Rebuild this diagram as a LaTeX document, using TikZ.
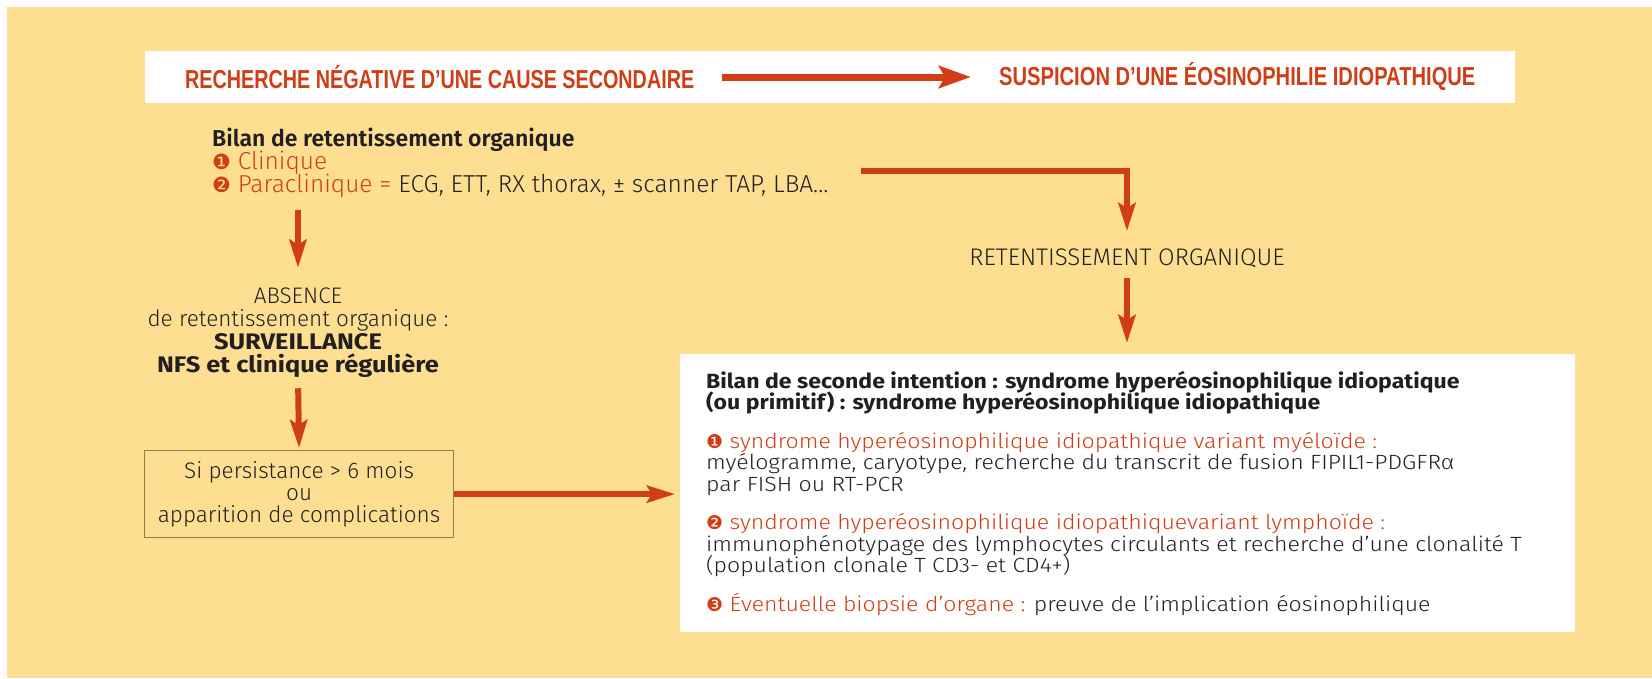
\documentclass[tikz,border=0pt]{standalone}
\usepackage{fontspec}
\setmainfont{Fira Sans}[UprightFont=* Light, BoldFont=* SemiBold]
\newfontfamily\wideb{Fira Sans}[BoldFont=* Bold, FakeStretch=1.13]
\newfontfamily\bbl{Fira Sans}[UprightFont=* Light, BoldFont=* Bold, FakeStretch=1.12]
\newfontfamily\conda[FakeStretch=0.76]{Liberation Sans}
\newfontfamily\condb[FakeStretch=0.775]{Liberation Sans}
\newfontfamily\dv{DejaVu Sans}
\usetikzlibrary{arrows.meta}
\definecolor{bgY}{HTML}{FEDF92}
\definecolor{rd}{HTML}{D03E16}
\definecolor{txt}{HTML}{231F20}
\definecolor{bx}{HTML}{9C7A4E}
\newcommand{\num}[1]{{\dv\fontsize{21}{21}\selectfont #1}}
\newcommand{\snum}[1]{{\dv\fontsize{19}{19}\selectfont #1}}
\newcommand{\wb}[1]{{\wideb\bfseries #1}}
\tikzset{
  ttla/.style={inner sep=0pt, text=rd, font=\conda\bfseries\fontsize{26}{26}\selectfont},
  ttlb/.style={inner sep=0pt, text=rd, font=\condb\bfseries\fontsize{26}{26}\selectfont},
  body/.style={inner sep=0pt, text=txt, font=\fontsize{22.5}{21.5}\selectfont},
  arr/.style={draw=rd, line width=6pt, -{Stealth[length=28pt,width=17pt,inset=5pt]}},
  bigarr/.style={draw=rd, line width=7pt, -{Stealth[length=32pt,width=22pt,inset=6pt]}}
}
\begin{document}
\lineskiplimit=-100pt \lineskip=0pt
\begin{tikzpicture}[x=1pt,y=-1pt]
\useasboundingbox (0,0) rectangle (1652,678);
\fill[white] (0,0) rectangle (1652,678);
\fill[bgY] (7,7) rectangle (1652,678);
% banner
\node[fill=white, inner sep=0pt, minimum width=1370pt, minimum height=52pt, anchor=north west] (banner) at (145,51) {};
\node[ttla, anchor=west] (t1) at (185,77) {RECHERCHE NÉGATIVE D’UNE CAUSE SECONDAIRE};
\node[ttlb, anchor=west] (t2) at (999,77) {SUSPICION D’UNE ÉOSINOPHILIE IDIOPATHIQUE};
\coordinate (a1) at (722,77);
\coordinate (a2) at (971,77);
\draw[bigarr] (a1) -- (a2);
% bilan
\node[body, font=\fontsize{24.5}{23}\selectfont, anchor=north west, align=left] (bil) at (212,127.5) {\rule{0pt}{17pt}{\fontsize{23}{23}\selectfont\bfseries Bilan de retentissement organique}\\
{\color{rd}\num{❶} Clinique}\\
{\color{rd}\num{❷} Paraclinique =} ECG, ETT, RX thorax, ± scanner TAP, LBA...};
% retentissement
\node[body, font=\fontsize{24}{23}\selectfont, anchor=base] (ret) at (1127,265) {RETENTISSEMENT ORGANIQUE};
\coordinate (c1) at (861,171);
\draw[arr, shorten >=17pt] (c1) -| (ret.north);
% absence
\node[body, font=\fontsize{22.5}{22.7}\selectfont, anchor=north, align=center] (abs) at (298,285.75) {\rule{0pt}{18pt}ABSENCE\\de retentissement organique :\\\wb{SURVEILLANCE}\\\wb{NFS et clinique régulière}};
\draw[arr, shorten <=13pt, shorten >=18pt] (abs.north |- bil.south) -- (abs.north);
% box
\node[draw=bx, line width=1.2pt, fill=bgY, minimum width=309pt, minimum height=87pt, anchor=north west, inner sep=0pt] (box) at (144,450) {};
\node[body, font=\fontsize{22.5}{22}\selectfont, align=center] (boxt) at (box.center) {Si persistance > 6 mois\\ou\\apparition de complications};
\draw[arr, shorten <=11pt, shorten >=2pt] (abs.south) -- (box.north);
% big box
\node[fill=white, inner sep=0pt, minimum width=895pt, minimum height=278pt, anchor=north west] (big) at (680,354) {};
\draw[arr, shorten >=5pt] (box.east) -- (big.west |- box.east);
\draw[arr, shorten <=11pt, shorten >=11pt] (ret.south) -- (big.north -| ret.south);
\node[body, font=\bbl\fontsize{20.6}{21.5}\selectfont, anchor=north west, align=left] (bigt) at (706,370) {\rule{0pt}{18pt}\textbf{Bilan de seconde intention : syndrome hyperéosinophilique idiopatique}\\
\textbf{(ou primitif) : syndrome hyperéosinophilique idiopathique}\\[17pt]
{\color{rd}\snum{❶} syndrome hyperéosinophilique idiopathique variant myéloïde :}\\
myélogramme, caryotype, recherche du transcrit de fusion FIPIL1-PDGFRα\\
par FISH ou RT-PCR\\[17pt]
{\color{rd}\snum{❷} syndrome hyperéosinophilique idiopathiquevariant lymphoïde :}\\
immunophénotypage des lymphocytes circulants et recherche d’une clonalité T\\
(population clonale T CD3- et CD4+)\\[17pt]
{\color{rd}\snum{❸} Éventuelle biopsie d’organe :} preuve de l’implication éosinophilique};
\end{tikzpicture}
\end{document}
